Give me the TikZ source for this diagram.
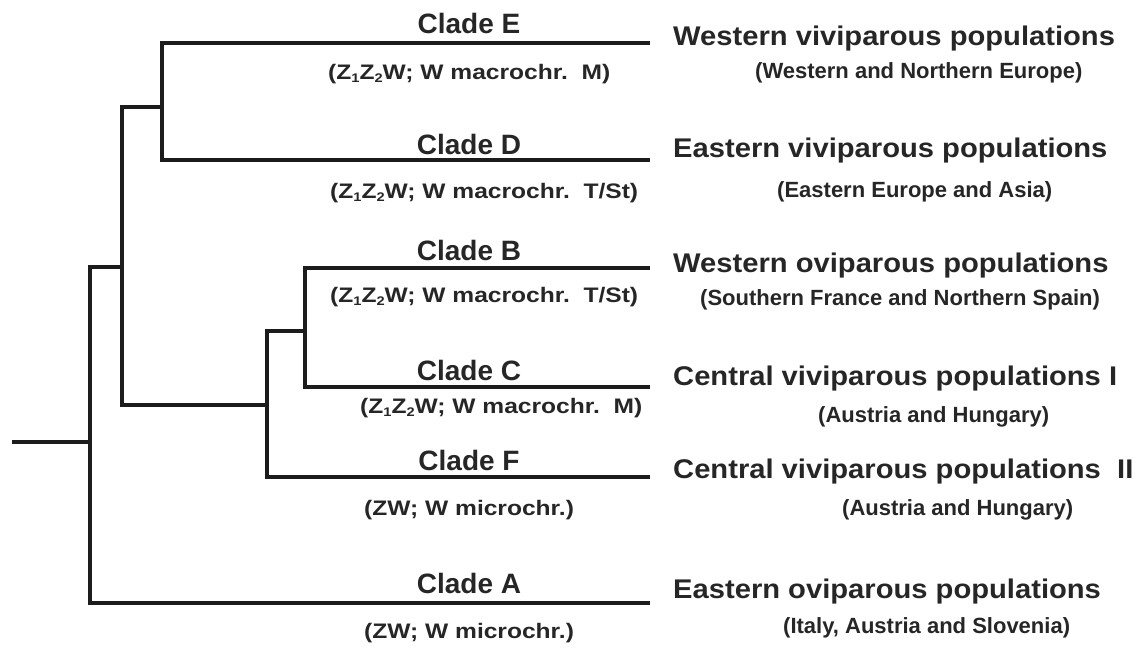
\documentclass[tikz,border=0pt]{standalone}
\usepackage{fontspec}
\setmainfont{Liberation Sans}
\definecolor{ink}{HTML}{1C1C1C}
\definecolor{txt}{HTML}{262626}
\newcommand\sbs[1]{\raisebox{-0.3ex}{\fontsize{12.5pt}{12.5pt}\selectfont #1}}
\newcommand\csub[1]{\scalebox{1.17}[1]{#1}}
\newcommand\pmain[1]{\scalebox{1.08}[1]{#1}}
\tikzset{
  branch/.style={draw=ink, line width=3.3pt, line join=miter},
  cladelbl/.style={text=txt, font=\bfseries\fontsize{28pt}{28pt}\selectfont, anchor=base, inner sep=0pt},
  cladesub/.style={text=txt, font=\bfseries\fontsize{21pt}{21pt}\selectfont, anchor=base west, inner sep=0pt},
  poplbl/.style={text=txt, font=\bfseries\fontsize{27pt}{27pt}\selectfont, anchor=base west, inner sep=0pt},
  popsub/.style={text=txt, font=\bfseries\fontsize{22pt}{22pt}\selectfont, anchor=base west, inner sep=0pt}
}
\begin{document}
\begin{tikzpicture}[x=1pt, y=-1pt]
\useasboundingbox (0,0) rectangle (1142,648);
% tree coordinates
\coordinate (stub) at (12,442);
\coordinate (root) at (90,442);
\coordinate (n1) at (122,267);
\coordinate (n2) at (162,107);
\coordinate (n3) at (267,405);
\coordinate (n4) at (305,331);
\coordinate (tipE) at (650,43);
\coordinate (tipD) at (650,160);
\coordinate (tipB) at (650,268);
\coordinate (tipC) at (650,387);
\coordinate (tipF) at (650,477);
\coordinate (tipA) at (650,603);
% branches
\draw[branch] (stub) -- (root);
\draw[branch] (root) |- (n1);
\draw[branch] (root) |- (tipA);
\draw[branch] (n1) |- (n2);
\draw[branch] (n1) |- (n3);
\draw[branch] (n2) |- (tipE);
\draw[branch] (n2) |- (tipD);
\draw[branch] (n3) |- (n4);
\draw[branch] (n3) |- (tipF);
\draw[branch] (n4) |- (tipB);
\draw[branch] (n4) |- (tipC);
% clade labels
\node[cladelbl] (cE) at (469,33) {Clade E};
\node[cladesub] (sE) at (328,79) {\csub{(Z\sbs{1}Z\sbs{2}W; W macrochr.\ \ M)}};
\node[cladelbl] (cD) at (469,154) {Clade D};
\node[cladesub] (sD) at (330,198) {\csub{(Z\sbs{1}Z\sbs{2}W; W macrochr.\ \ T/St)}};
\node[cladelbl] (cB) at (469,260) {Clade B};
\node[cladesub] (sB) at (330,302) {\csub{(Z\sbs{1}Z\sbs{2}W; W macrochr.\ \ T/St)}};
\node[cladelbl] (cC) at (469,380) {Clade C};
\node[cladesub] (sC) at (360,413) {\csub{(Z\sbs{1}Z\sbs{2}W; W macrochr.\ \ M)}};
\node[cladelbl] (cF) at (469,470) {Clade F};
\node[cladesub] (sF) at (364,515) {\csub{(ZW; W microchr.)}};
\node[cladelbl] (cA) at (469,593) {Clade A};
\node[cladesub] (sA) at (364,638) {\csub{(ZW; W microchr.)}};
% population labels
\node[poplbl] (pE) at (673,45) {\pmain{Western viviparous populations}};
\node[popsub] (qE) at (755,78) {(Western and Northern Europe)};
\node[poplbl] (pD) at (673,157) {\pmain{Eastern viviparous populations}};
\node[popsub] (qD) at (777,197) {(Eastern Europe and Asia)};
\node[poplbl] (pB) at (673,272) {\pmain{Western oviparous populations}};
\node[popsub] (qB) at (700,305) {(Southern France and Northern Spain)};
\node[poplbl] (pC) at (673,385) {\pmain{Central viviparous populations I}};
\node[popsub] (qC) at (818,422) {(Austria and Hungary)};
\node[poplbl] (pF) at (673,478) {\pmain{Central viviparous populations\ \ II}};
\node[popsub] (qF) at (842,515) {(Austria and Hungary)};
\node[poplbl] (pA) at (673,598) {\pmain{Eastern oviparous populations}};
\node[popsub] (qA) at (783,633) {(Italy, Austria and Slovenia)};
\end{tikzpicture}
\end{document}
